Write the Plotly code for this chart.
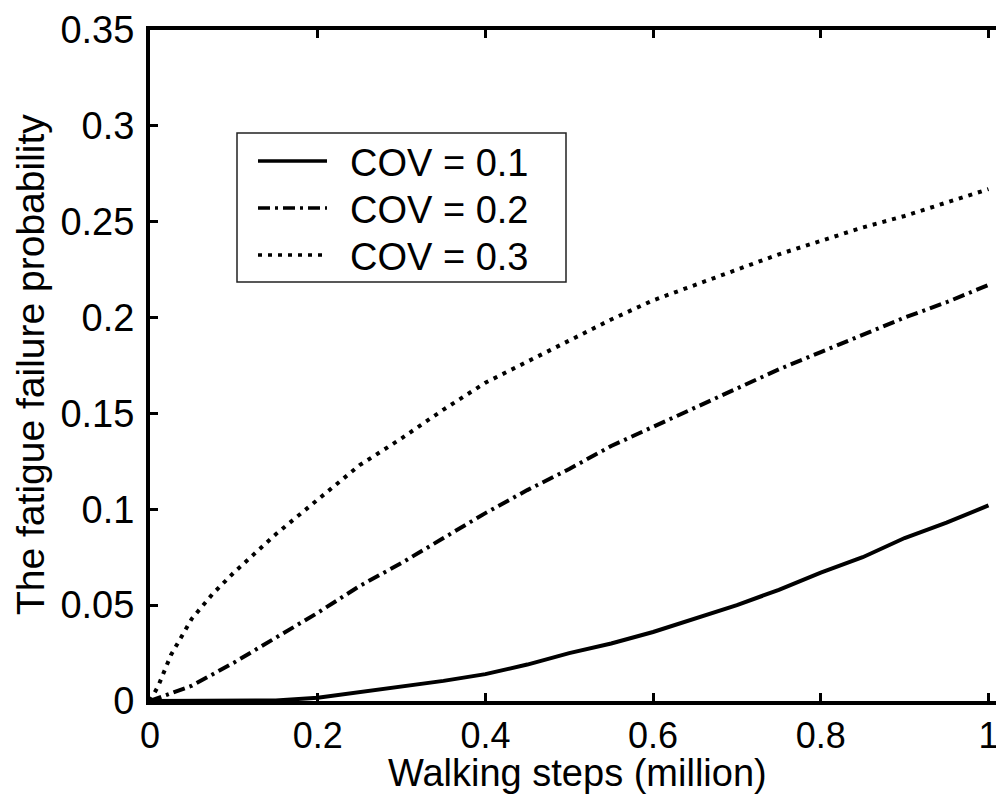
import plotly.graph_objects as go

# ---- data ----
x_cov1 = [0, 0.05, 0.1, 0.15, 0.2, 0.25, 0.3, 0.35, 0.4, 0.45, 0.5, 0.55, 0.6, 0.65, 0.7, 0.75, 0.8, 0.85, 0.9, 0.95, 1.0]
y_cov1 = [0, 0, 0, 0.0003, 0.0017, 0.0045, 0.0075, 0.0105, 0.014, 0.019, 0.025, 0.030, 0.036, 0.043, 0.050, 0.058, 0.067, 0.075, 0.085, 0.093, 0.102]

x_cov2 = [0, 0.05, 0.1, 0.15, 0.2, 0.25, 0.3, 0.35, 0.4, 0.45, 0.5, 0.55, 0.6, 0.65, 0.7, 0.75, 0.8, 0.85, 0.9, 0.95, 1.0]
y_cov2 = [0, 0.008, 0.020, 0.033, 0.046, 0.060, 0.072, 0.085, 0.098, 0.110, 0.121, 0.133, 0.143, 0.153, 0.163, 0.173, 0.182, 0.191, 0.200, 0.208, 0.217]

x_cov3 = [0, 0.01, 0.025, 0.05, 0.075, 0.1, 0.15, 0.2, 0.25, 0.3, 0.35, 0.4, 0.45, 0.5, 0.55, 0.6, 0.65, 0.7, 0.75, 0.8, 0.85, 0.9, 0.95, 1.0]
y_cov3 = [0, 0.008, 0.024, 0.043, 0.056, 0.067, 0.087, 0.105, 0.123, 0.137, 0.152, 0.166, 0.177, 0.188, 0.199, 0.209, 0.217, 0.225, 0.233, 0.240, 0.247, 0.253, 0.260, 0.267]

legend_labels = ["COV = 0.1", "COV = 0.2", "COV = 0.3"]
x_ticks = [0, 0.2, 0.4, 0.6, 0.8, 1]
x_ticktext = ["0", "0.2", "0.4", "0.6", "0.8", "1"]
y_ticks = [0, 0.05, 0.1, 0.15, 0.2, 0.25, 0.3, 0.35]
y_ticktext = ["0", "0.05", "0.1", "0.15", "0.2", "0.25", "0.3", "0.35"]
x_title = "Walking steps (million)"
y_title = "The fatigue failure probability"

FONT = "Liberation Sans, Arial, Helvetica, sans-serif"
OFF = 8                      # page body margin
W, H = 996, 789
L, R, T, B = 142, 0, 22, 96
DASHES = ["solid", "12px,5px,3px,5px", "4px,6px"]

fig = go.Figure()
for xs, ys, name, dash in [(x_cov1, y_cov1, legend_labels[0], DASHES[0]),
                           (x_cov2, y_cov2, legend_labels[1], DASHES[1]),
                           (x_cov3, y_cov3, legend_labels[2], DASHES[2])]:
    fig.add_trace(go.Scatter(x=xs, y=ys, mode="lines", name=name,
                             line=dict(color="black", width=4, dash=dash),
                             showlegend=False))

pw, ph = W - L - R, H - T - B
def px(xs):
    return (xs - OFF - L) / pw
def py(ys):
    return (H - B - (ys - OFF)) / ph

shapes = [dict(type="rect", xref="paper", yref="paper",
               x0=px(237), x1=px(566), y0=py(282), y1=py(133),
               line=dict(color="#222222", width=1.5), fillcolor="white")]
annotations = []
leg_y = [161, 208, 255]
for i, lab in enumerate(legend_labels):
    shapes.append(dict(type="line", xref="paper", yref="paper",
                       x0=px(258), x1=px(327), y0=py(leg_y[i]), y1=py(leg_y[i]),
                       line=dict(color="black", width=3.5, dash=DASHES[i])))
    annotations.append(dict(xref="paper", yref="paper", x=px(348), y=py(leg_y[i] + 2),
                            text=lab, showarrow=False, xanchor="left", yanchor="middle",
                            font=dict(family=FONT, size=38, color="black")))

annotations.append(dict(xref="paper", yref="paper", x=px(577), y=py(773),
                        text=x_title, showarrow=False, xanchor="center", yanchor="middle",
                        font=dict(family=FONT, size=38, color="black")))
annotations.append(dict(xref="paper", yref="paper", x=px(30), y=py(365),
                        text=y_title, showarrow=False, xanchor="center", yanchor="middle",
                        textangle=-90,
                        font=dict(family=FONT, size=39, color="black")))

fig.update_layout(
    width=W, height=H,
    margin=dict(l=L, r=R, t=T, b=B, pad=0),
    paper_bgcolor="white", plot_bgcolor="white",
    font=dict(family=FONT, size=38, color="black"),
    shapes=shapes, annotations=annotations,
    xaxis=dict(range=[0, 1.0185], tickvals=x_ticks, ticktext=x_ticktext,
               ticks="inside", ticklen=8, tickwidth=3, tickcolor="black",
               showline=True, linewidth=4, linecolor="black", mirror="ticks",
               showgrid=False, zeroline=False,
               tickfont=dict(family=FONT, size=36)),
    yaxis=dict(range=[0, 0.35], tickvals=y_ticks, ticktext=y_ticktext,
               ticks="inside", ticklen=8, tickwidth=3, tickcolor="black",
               showline=True, linewidth=4, linecolor="black", mirror=False,
               showgrid=False, zeroline=False, ticklabelstandoff=4,
               tickfont=dict(family=FONT, size=38)),
    yaxis2=dict(range=[0, 0.35], tickvals=y_ticks, overlaying="y", side="right",
                anchor="x", matches="y",
                ticks="inside", ticklen=8, tickwidth=3, tickcolor="black",
                showline=False, showticklabels=False, showgrid=False, zeroline=False),
    showlegend=False,
)
fig.add_trace(go.Scatter(x=[0], y=[0], yaxis="y2", mode="markers",
                         marker=dict(opacity=0), hoverinfo="skip", showlegend=False))

fig.write_html("out.html")
